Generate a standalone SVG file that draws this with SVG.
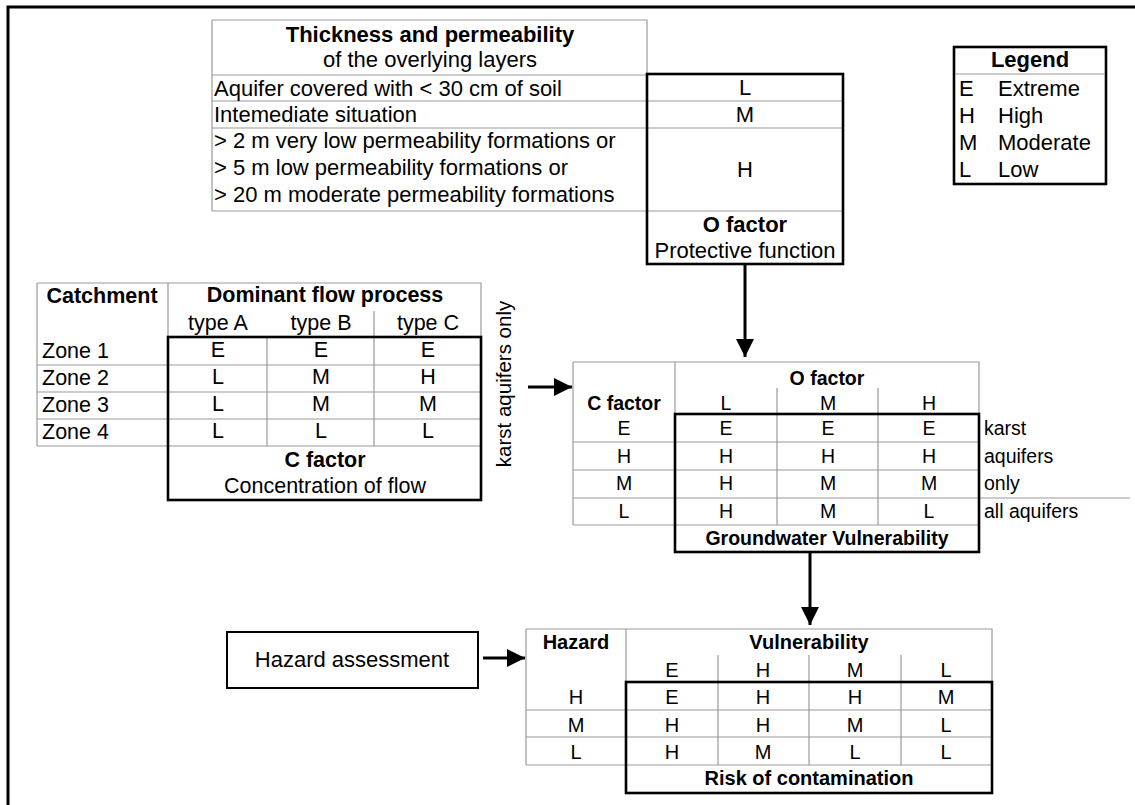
<svg xmlns="http://www.w3.org/2000/svg" width="1135" height="805" viewBox="0 0 1135 805">
<defs>
<style>
text{font-family:"Liberation Sans",Arial,sans-serif;fill:#000}
.t{font-size:22px}
.tb{font-size:22px;font-weight:bold}
.l{font-size:21.5px}
.lb{font-size:21.5px;font-weight:bold}
.m{font-size:19.5px}
.mb{font-size:19.5px;font-weight:bold}
.b{font-size:20px}
.bb{font-size:20px;font-weight:bold}
.c{text-anchor:middle}
.g{stroke:#9a9a9a;stroke-width:1.2;fill:none}
.k{stroke:#000;stroke-width:2.6;fill:none}
.a{stroke:#000;stroke-width:3;fill:none}
</style>
<marker id="ah" markerUnits="userSpaceOnUse" markerWidth="20" markerHeight="20" viewBox="0 0 20 20" refX="18" refY="10" orient="auto">
<path d="M0,1 L18,10 L0,19 Z" fill="#000"/>
</marker>
</defs>
<rect width="1135" height="805" fill="#fff"/>
<path d="M8,805 V7 H1135" stroke="#000" stroke-width="3" fill="none"/>

<g id="o-factor-table">
<path class="g" d="M212,20 H647 V75 M212,20 V211 M212,75 H647 M212,101 H843 M212,128 H843 M212,211 H843"/>
<rect class="k" x="647" y="74" width="196" height="190"/>
<text class="tb c" x="430" y="42">Thickness and permeability</text>
<text class="t c" x="430" y="67">of the overlying layers</text>
<text class="t" x="214" y="96">Aquifer covered with &lt; 30 cm of soil</text>
<text class="t" x="214" y="122">Intemediate situation</text>
<text class="t" x="214" y="148">&gt; 2 m very low permeability formations or</text>
<text class="t" x="214" y="175">&gt; 5 m low permeability formations or</text>
<text class="t" x="214" y="202">&gt; 20 m moderate permeability formations</text>
<text class="t c" x="745" y="95">L</text>
<text class="t c" x="745" y="122">M</text>
<text class="t c" x="745" y="177">H</text>
<text class="tb c" x="745" y="232">O factor</text>
<text class="t c" x="745" y="258">Protective function</text>
</g>

<g id="legend">
<rect class="k" x="954" y="47" width="152" height="137"/>
<path class="g" d="M955,74 H1105"/>
<text class="tb c" x="1030" y="67">Legend</text>
<text class="t" x="959" y="96">E</text><text class="t" x="998" y="96">Extreme</text>
<text class="t" x="959" y="123">H</text><text class="t" x="998" y="123">High</text>
<text class="t" x="959" y="150">M</text><text class="t" x="998" y="150">Moderate</text>
<text class="t" x="959" y="177">L</text><text class="t" x="998" y="177">Low</text>
</g>

<g id="c-factor-table">
<path class="g" d="M37,283 H481 V337 M37,283 V446 M168,283 V337 M374,311 V337 M37,365 H481 M37,392 H481 M37,419 H481 M37,446 H481 M267,337 V446 M374,337 V446"/>
<rect class="k" x="168" y="337" width="313" height="163"/>
<text class="lb c" x="102" y="303">Catchment</text>
<text class="lb c" x="325" y="302">Dominant flow process</text>
<text class="l c" x="218" y="330">type A</text>
<text class="l c" x="321" y="330">type B</text>
<text class="l c" x="428" y="330">type C</text>
<text class="l" x="42" y="358">Zone 1</text>
<text class="l" x="42" y="385">Zone 2</text>
<text class="l" x="42" y="412">Zone 3</text>
<text class="l" x="42" y="439">Zone 4</text>
<text class="l c" x="218" y="357">E</text><text class="l c" x="321" y="357">E</text><text class="l c" x="428" y="357">E</text>
<text class="l c" x="218" y="384">L</text><text class="l c" x="321" y="384">M</text><text class="l c" x="428" y="384">H</text>
<text class="l c" x="218" y="411">L</text><text class="l c" x="321" y="411">M</text><text class="l c" x="428" y="411">M</text>
<text class="l c" x="218" y="438">L</text><text class="l c" x="321" y="438">L</text><text class="l c" x="428" y="438">L</text>
<text class="lb c" x="325" y="467">C factor</text>
<text class="l c" x="325" y="493">Concentration of flow</text>
</g>

<g id="karst-label">
<text class="t c" transform="translate(511,384) rotate(-90)" style="font-size:20.5px">karst aquifers only</text>
</g>

<g id="vulnerability-table">
<path class="g" d="M573,362 H979 V414 M573,362 V525 M675,362 V414 M777,388 V525 M878,388 V525 M573,442 H979 M573,470 H979 M573,498 H1130 M573,525 H979"/>
<rect class="k" x="675" y="414" width="304" height="138"/>
<text class="mb c" x="827" y="385">O factor</text>
<text class="mb c" x="624" y="410">C factor</text>
<text class="m c" x="726" y="410">L</text><text class="m c" x="828" y="410">M</text><text class="m c" x="929" y="410">H</text>
<text class="m c" x="624" y="435">E</text><text class="m c" x="726" y="435">E</text><text class="m c" x="828" y="435">E</text><text class="m c" x="929" y="435">E</text>
<text class="m c" x="624" y="463">H</text><text class="m c" x="726" y="463">H</text><text class="m c" x="828" y="463">H</text><text class="m c" x="929" y="463">H</text>
<text class="m c" x="624" y="490">M</text><text class="m c" x="726" y="490">H</text><text class="m c" x="828" y="490">M</text><text class="m c" x="929" y="490">M</text>
<text class="m c" x="624" y="518">L</text><text class="m c" x="726" y="518">H</text><text class="m c" x="828" y="518">M</text><text class="m c" x="929" y="518">L</text>
<text class="m" x="984" y="435">karst</text>
<text class="m" x="984" y="463">aquifers</text>
<text class="m" x="984" y="490">only</text>
<text class="m" x="984" y="518">all aquifers</text>
<text class="mb c" x="827" y="545">Groundwater Vulnerability</text>
</g>

<g id="hazard-assessment">
<rect x="227" y="632" width="251" height="56" fill="none" stroke="#000" stroke-width="2"/>
<text class="t c" x="352" y="667">Hazard assessment</text>
</g>

<g id="risk-table">
<path class="g" d="M526,629 H992 V682 M526,629 V765 M626,629 V682 M718,655 V765 M809,655 V765 M901,655 V765 M526,710 H992 M526,737 H992 M526,765 H992"/>
<rect class="k" x="626" y="682" width="366" height="111"/>
<text class="bb c" x="576" y="649">Hazard</text>
<text class="bb c" x="809" y="649">Vulnerability</text>
<text class="b c" x="672" y="677">E</text><text class="b c" x="763" y="677">H</text><text class="b c" x="855" y="677">M</text><text class="b c" x="946" y="677">L</text>
<text class="b c" x="576" y="704">H</text><text class="b c" x="672" y="704">E</text><text class="b c" x="763" y="704">H</text><text class="b c" x="855" y="704">H</text><text class="b c" x="946" y="704">M</text>
<text class="b c" x="576" y="732">M</text><text class="b c" x="672" y="732">H</text><text class="b c" x="763" y="732">H</text><text class="b c" x="855" y="732">M</text><text class="b c" x="946" y="732">L</text>
<text class="b c" x="576" y="759">L</text><text class="b c" x="672" y="759">H</text><text class="b c" x="763" y="759">M</text><text class="b c" x="855" y="759">L</text><text class="b c" x="946" y="759">L</text>
<text class="bb c" x="809" y="785">Risk of contamination</text>
</g>

<g id="connectors">
<line class="a" x1="745" y1="265" x2="745" y2="357" marker-end="url(#ah)"/>
<line class="a" x1="528" y1="387" x2="572" y2="387" marker-end="url(#ah)"/>
<line class="a" x1="810" y1="553" x2="810" y2="625" marker-end="url(#ah)"/>
<line class="a" x1="483" y1="658" x2="525" y2="658" marker-end="url(#ah)"/>
</g>
</svg>
